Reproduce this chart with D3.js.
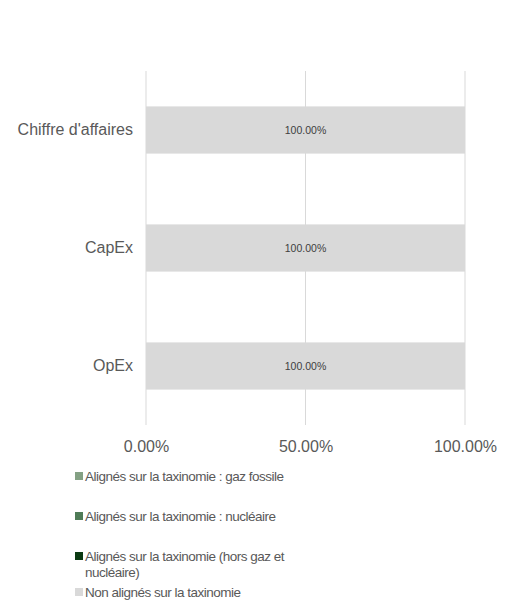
<!DOCTYPE html>
<html><head><meta charset="utf-8">
<script src="https://cdn.jsdelivr.net/npm/d3@7"></script>
<style>body{margin:0;background:#fff;} svg text{font-family:"Liberation Sans",Arial,sans-serif;}</style>
</head><body><svg id="c" width="517" height="608"></svg>
<script>
const categories = ["Chiffre d'affaires", "CapEx", "OpEx"];
const seriesNames = ["Alignés sur la taxinomie : gaz fossile", "Alignés sur la taxinomie : nucléaire", "Alignés sur la taxinomie (hors gaz et nucléaire)", "Non alignés sur la taxinomie"];
const gazFossile = [0, 0, 0];
const nucleaire = [0, 0, 0];
const horsGaz = [0, 0, 0];
const nonAlignes = [100, 100, 100];
const xTicks = [0, 50, 100];
const colors = ["#84a184", "#4f7b57", "#0b3a12", "#d9d9d9"];

const svg = d3.select("#c");
const x = d3.scaleLinear().domain([0, 100]).range([146, 465]);
const y = d3.scaleBand().domain(categories).range([71, 425]).paddingInner(0.6).paddingOuter(0.3);

const rows = categories.map((c, i) => ({cat: c, s0: gazFossile[i], s1: nucleaire[i], s2: horsGaz[i], s3: nonAlignes[i]}));
const stack = d3.stack().keys(["s0","s1","s2","s3"])(rows);

svg.append("g").selectAll("line").data(xTicks).join("line")
  .attr("x1", d => x(d)).attr("x2", d => x(d)).attr("y1", 71).attr("y2", 425)
  .attr("stroke", "#d9d9d9").attr("stroke-width", 1);

stack.forEach((layer, k) => {
  svg.append("g").selectAll("rect").data(layer).join("rect")
    .attr("x", d => x(d[0])).attr("width", d => x(d[1]) - x(d[0]))
    .attr("y", d => y(d.data.cat)).attr("height", y.bandwidth())
    .attr("fill", colors[k]);
});

stack.forEach((layer, k) => {
  svg.append("g").selectAll("text").data(layer.filter(d => d[1] - d[0] > 0)).join("text")
    .attr("x", d => x((d[0] + d[1]) / 2)).attr("y", d => y(d.data.cat) + y.bandwidth() / 2)
    .attr("text-anchor", "middle").attr("dominant-baseline", "central")
    .attr("font-size", 10.5).attr("fill", "#404040")
    .text(d => (d[1] - d[0]).toFixed(2) + "%");
});

const xAxis = d3.axisBottom(x).tickValues(xTicks).tickSize(0).tickFormat(d => d.toFixed(2) + "%");
const gx = svg.append("g").attr("transform", "translate(0,438)").call(xAxis);
gx.select(".domain").remove();
gx.selectAll("text").attr("font-size", 16).attr("fill", "#595959").attr("font-family", null);

const yAxis = d3.axisLeft(y).tickSize(0).tickPadding(0);
const gy = svg.append("g").attr("transform", "translate(133,0)").call(yAxis);
gy.select(".domain").remove();
gy.selectAll("text").attr("font-size", 16).attr("fill", "#595959").attr("font-family", null);

const legendY = [476, 516, 556, 592];
const legendLines = [[seriesNames[0]], [seriesNames[1]], ["Alignés sur la taxinomie (hors gaz et", "nucléaire)"], [seriesNames[3]]];
const lg = svg.append("g");
legendLines.forEach((lines, i) => {
  lg.append("rect").attr("x", 75).attr("y", legendY[i] - 4).attr("width", 8).attr("height", 8).attr("fill", colors[i]);
  const t = lg.append("text").attr("x", 85).attr("y", legendY[i]).attr("dominant-baseline", "central")
    .attr("font-size", 13.5).attr("letter-spacing", -0.5).attr("fill", "#595959");
  lines.forEach((l, j) => t.append("tspan").attr("x", 85).attr("dy", j === 0 ? 0 : 15.5).text(l));
});
</script></body></html>
